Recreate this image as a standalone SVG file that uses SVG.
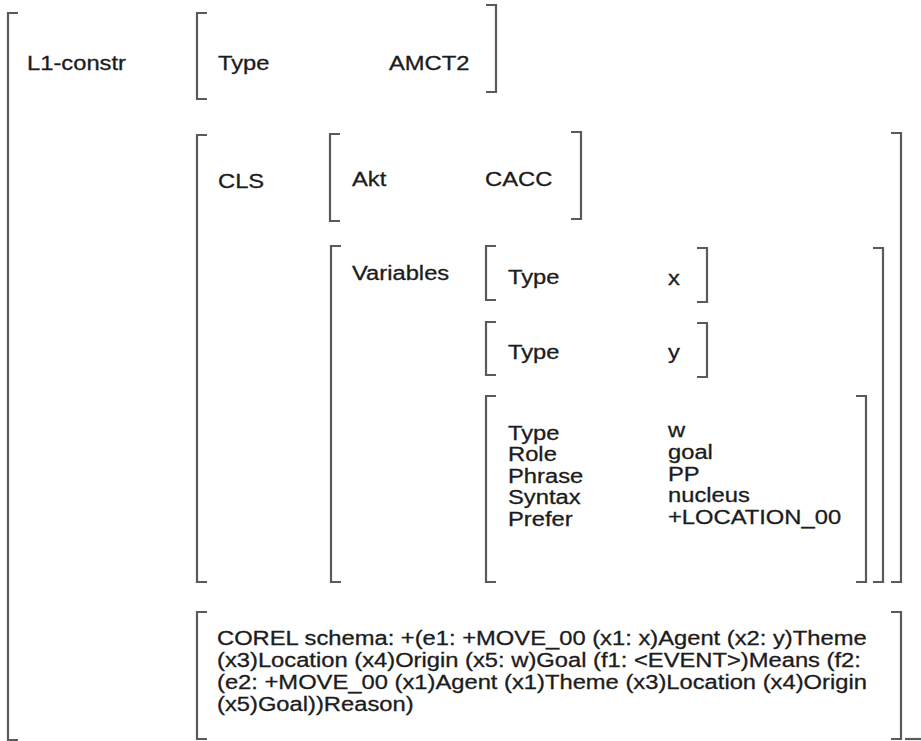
<svg xmlns="http://www.w3.org/2000/svg" width="921" height="741" viewBox="0 0 921 741">
<style>
.b{fill:none;stroke:#5a5a5a;stroke-width:2.2}
text{font-family:"Liberation Sans",Arial,sans-serif;font-size:20.4px;fill:#1c1c1c;stroke:#1c1c1c;stroke-width:0.3}
</style>
<rect width="921" height="741" fill="#ffffff"/>
<g id="connectors"/>
<g id="l1-constr">
<path class="b" d="M18,13 H8 V740 H18"/>
<path class="b" d="M905,739 H921"/>
<text transform="matrix(1.165 0 0 1 27 70)">L1-constr</text>
</g>
<g id="type-amct2">
<path class="b" d="M207,13 H197 V99 H207"/>
<path class="b" d="M486,5 H496 V92 H486"/>
<text transform="matrix(1.165 0 0 1 218 70)">Type</text>
<text transform="matrix(1.165 0 0 1 389 70)">AMCT2</text>
</g>
<g id="cls">
<path class="b" d="M207,135 H197 V582 H207"/>
<path class="b" d="M891,133 H901 V582 H891"/>
<text transform="matrix(1.165 0 0 1 218 188)">CLS</text>
</g>
<g id="akt">
<path class="b" d="M340,134 H330 V221 H340"/>
<path class="b" d="M571,132 H581 V219 H571"/>
<text transform="matrix(1.165 0 0 1 352 186)">Akt</text>
<text transform="matrix(1.165 0 0 1 485 186)">CACC</text>
</g>
<g id="variables">
<path class="b" d="M341,246 H331 V582 H341"/>
<path class="b" d="M873,248 H883 V582 H873"/>
<text transform="matrix(1.165 0 0 1 352 280)">Variables</text>
</g>
<g id="var-x">
<path class="b" d="M496,246 H486 V300 H496"/>
<path class="b" d="M697,248 H707 V302 H697"/>
<text transform="matrix(1.165 0 0 1 508 284)">Type</text>
<text transform="matrix(1.165 0 0 1 668 285)">x</text>
</g>
<g id="var-y">
<path class="b" d="M496,322 H486 V375 H496"/>
<path class="b" d="M697,323 H707 V377 H697"/>
<text transform="matrix(1.165 0 0 1 508 359)">Type</text>
<text transform="matrix(1.165 0 0 1 668 359)">y</text>
</g>
<g id="var-w">
<path class="b" d="M496,396 H486 V582 H496"/>
<path class="b" d="M856,396 H866 V582 H856"/>
<text transform="matrix(1.165 0 0 1 508 440)">Type</text>
<text transform="matrix(1.165 0 0 1 508 461)">Role</text>
<text transform="matrix(1.165 0 0 1 508 483)">Phrase</text>
<text transform="matrix(1.165 0 0 1 508 504)">Syntax</text>
<text transform="matrix(1.165 0 0 1 508 526)">Prefer</text>
<text transform="matrix(1.165 0 0 1 668 437)">w</text>
<text transform="matrix(1.165 0 0 1 668 459)">goal</text>
<text transform="matrix(1.165 0 0 1 668 481)">PP</text>
<text transform="matrix(1.165 0 0 1 668 502)">nucleus</text>
<text transform="matrix(1.165 0 0 1 668 524)">+LOCATION_00</text>
</g>
<g id="corel">
<path class="b" d="M207,612 H197 V739 H207"/>
<path class="b" d="M891,612 H901 V739 H891"/>
<text transform="matrix(1.165 0 0 1 217 645)">COREL schema: +(e1: +MOVE_00 (x1: x)Agent (x2: y)Theme</text>
<text transform="matrix(1.165 0 0 1 217 667)">(x3)Location (x4)Origin (x5: w)Goal (f1: &lt;EVENT&gt;)Means (f2:</text>
<text transform="matrix(1.165 0 0 1 217 689)">(e2: +MOVE_00 (x1)Agent (x1)Theme (x3)Location (x4)Origin</text>
<text transform="matrix(1.165 0 0 1 217 711)">(x5)Goal))Reason)</text>
</g>
</svg>
